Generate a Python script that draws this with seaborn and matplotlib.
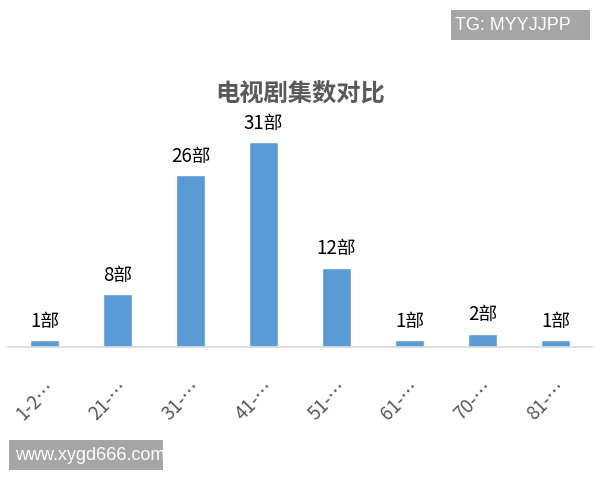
import matplotlib
matplotlib.use('Agg')
import matplotlib.pyplot as plt
import seaborn as sns
import pandas as pd
from matplotlib.patches import Rectangle

categories = ["1-2…", "21-…", "31-…", "41-…", "51-…", "61-…", "70-…", "81-…"]
counts = [1, 8, 26, 31, 12, 1, 2, 1]
title = "电视剧集数对比"

sns.set_theme(style="white")
plt.rcParams['font.family'] = ['Noto Sans CJK SC', 'DejaVu Sans']

df = pd.DataFrame({"cat": categories, "n": counts})

fig = plt.figure(figsize=(6, 4.8), dpi=100)
ax = fig.add_axes([8 / 600, 133 / 480, 584 / 600, 231 / 480])
sns.barplot(data=df, x="cat", y="n", color="#5B9BD5", width=0.39, saturation=1, ax=ax)
ax.set_xlim(-0.5, 7.5)
ax.set_ylim(0, 35)
for s in ["top", "right", "left"]:
    ax.spines[s].set_visible(False)
ax.spines["bottom"].set_color("#d9d9d9")
ax.spines["bottom"].set_linewidth(1.2)
ax.set_yticks([])
ax.set_xlabel("")
ax.set_ylabel("")
ax.tick_params(axis="x", length=0, pad=22)
for lbl in ax.get_xticklabels():
    lbl.set_rotation(45)
    lbl.set_ha("right")
    lbl.set_rotation_mode("anchor")
    lbl.set_fontsize(13.5)
    lbl.set_color("#595959")

for i, v in enumerate(counts):
    ax.text(i, v + 1.3, f"{v}部", ha="center", va="bottom", fontsize=13.5, color="black")

fig.text(0.5, 1 - 95 / 480, title, ha="center", va="center", fontsize=17.5,
         fontweight="bold", color="#595959")

# watermark boxes
fig.add_artist(Rectangle((451 / 600, 1 - 40 / 480), 139 / 600, 30 / 480,
                         transform=fig.transFigure, fc="#a6a6a6", ec="none"))
fig.text(455 / 600, 1 - 25 / 480, "TG: MYYJJPP", ha="left", va="center", fontsize=13,
         color="white", family=["Liberation Sans"])
fig.add_artist(Rectangle((9 / 600, 1 - 470 / 480), 154 / 600, 30 / 480,
                         transform=fig.transFigure, fc="#a6a6a6", ec="none"))
fig.text(15 / 600, 1 - 455 / 480, "www.xygd666.com", ha="left", va="center", fontsize=13,
         color="white", family=["Liberation Sans"])

fig.savefig("out.png", dpi=100)
